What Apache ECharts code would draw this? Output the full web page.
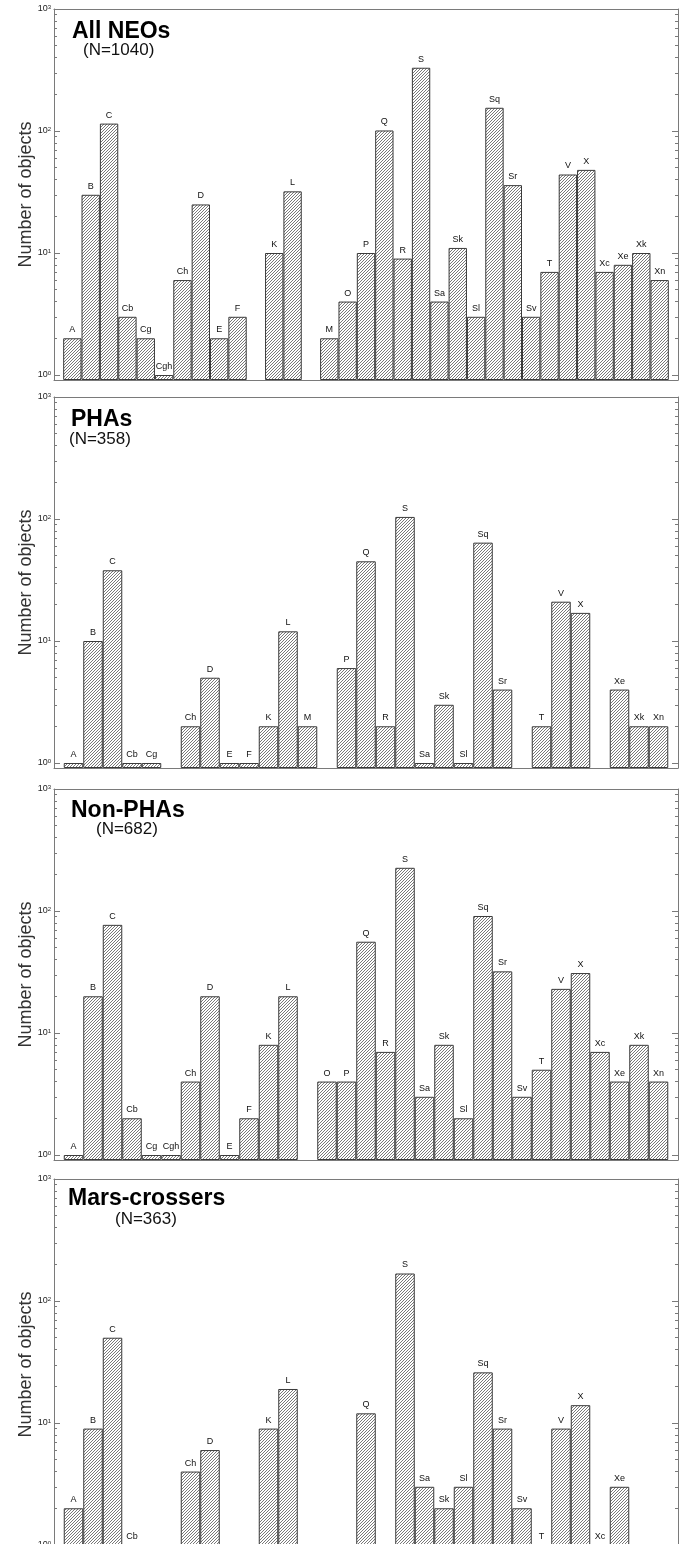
<!DOCTYPE html>
<html><head><meta charset="utf-8">
<script src="https://cdn.jsdelivr.net/npm/echarts@6/dist/echarts.min.js"></script>
<style>html,body{margin:0;padding:0;background:#fff}#c{width:686px;height:1544px}</style>
</head><body><div id="c"></div>
<script>
// ---- data ----
const allClasses   = ['A','B','C','Cb','Cg','Cgh','Ch','D','E','F','','K','L','','M','O','P','Q','R','S','Sa','Sk','Sl','Sq','Sr','Sv','T','V','X','Xc','Xe','Xk','Xn'];
const allCounts    = [2,30,115,3,2,1,6,25,2,3,null,10,32,null,2,4,10,101,9,330,4,11,3,155,36,3,7,44,48,7,8,10,6];

const phaClasses   = ['A','B','C','Cb','Cg','','Ch','D','E','F','K','L','M','','P','Q','R','S','Sa','Sk','Sl','Sq','Sr','','T','V','X','','Xe','Xk','Xn'];
const phaCounts    = [1,10,38,1,1,null,2,5,1,1,2,12,2,null,6,45,2,104,1,3,1,64,4,null,2,21,17,null,4,2,2];

const nonPhaClasses = ['A','B','C','Cb','Cg','Cgh','Ch','D','E','F','K','L','','O','P','Q','R','S','Sa','Sk','Sl','Sq','Sr','Sv','T','V','X','Xc','Xe','Xk','Xn'];
const nonPhaCounts  = [1,20,77,2,1,1,4,20,1,2,8,20,null,4,4,56,7,226,3,8,2,91,32,3,5,23,31,7,4,8,4];

const marsClasses  = ['A','B','C','Cb','','','Ch','D','','','K','L','','','','Q','','S','Sa','Sk','Sl','Sq','Sr','Sv','T','V','X','Xc','Xe','',''];
const marsCounts   = [2,9,50,1,null,null,4,6,null,null,9,19,null,null,null,12,null,168,3,2,3,26,9,2,1,9,14,1,3,null,null];

const panelTitles    = ['All NEOs','PHAs','Non-PHAs','Mars-crossers'];
const panelSubtitles = ['(N=1040)','(N=358)','(N=682)','(N=363)'];
const majorTicks = [1,10,100,1000];
const minorTicks = [2,3,4,5,6,7,8,9,20,30,40,50,60,70,80,90,200,300,400,500,600,700,800,900];
const yAxisName = 'Number of objects';

// ---- layout / style ----
const FONT = '"Liberation Sans", Arial, Helvetica, sans-serif';
const panels = [
  {cls: allClasses, cnt: allCounts, top: 9,    tL: 72, tT: 20,   sL: 83, sT: 42},
  {cls: phaClasses, cnt: phaCounts, top: 397,  tL: 71, tT: 408,  sL: 69, sT: 431},
  {cls: nonPhaClasses, cnt: nonPhaCounts, top: 789, tL: 71, tT: 799, sL: 96, sT: 821},
  {cls: marsClasses, cnt: marsCounts, top: 1179, tL: 68, tT: 1187, sL: 115, sT: 1211}
];
const PLOT_H = 371, Y_MIN = 0.91, Y_MAX = 1000;
const FRAME = '#7a7a7a';

function makeHatch() {
  const s = 6, c = document.createElement('canvas');
  c.width = s; c.height = s;
  const g = c.getContext('2d');
  g.fillStyle = '#fff'; g.fillRect(0, 0, s, s);
  g.strokeStyle = '#6a6a6a'; g.lineWidth = 0.9;
  for (let k = -3; k <= 3; k++) {
    const o = k * 3;
    g.beginPath(); g.moveTo(o, s); g.lineTo(o + s, 0); g.stroke();
  }
  return c;
}
const hatch = makeHatch();

const grid = [], xAxis = [], yAxis = [], series = [], title = [];
const supMap = {1:'0',10:'1',100:'2',1000:'3'};

panels.forEach((p, i) => {
  const n = p.cls.length;
  grid.push({left: 54, right: 8, top: p.top, height: PLOT_H, containLabel: false, outerBoundsMode: 'none'});
  const xBase = {type: 'value', gridIndex: i, min: -1, max: n,
    axisLine: {show: true, onZero: false, lineStyle: {color: FRAME, width: 1}},
    axisTick: {show: false}, axisLabel: {show: false}, splitLine: {show: false}};
  xAxis.push(Object.assign({position: 'bottom'}, xBase));
  xAxis.push(Object.assign({position: 'top'}, xBase));
  const yBase = {type: 'log', logBase: 10, gridIndex: i, min: Y_MIN, max: Y_MAX, startValue: Y_MIN,
    splitLine: {show: false}, minorSplitLine: {show: false}};
  // left major
  yAxis.push(Object.assign({}, yBase, {position: 'left',
    name: yAxisName, nameLocation: 'middle', nameGap: 19, nameMoveOverlap: false,
    nameTextStyle: {fontSize: 18, color: '#333', fontFamily: FONT},
    axisLine: {show: true, onZero: false, lineStyle: {color: FRAME, width: 1}},
    axisTick: {show: true, inside: true, length: 6, customValues: majorTicks, lineStyle: {color: FRAME}},
    axisLabel: {show: true, margin: 3, customValues: majorTicks,
      formatter: v => '{b|10}{s|' + supMap[Math.round(v)] + '}',
      rich: {b: {fontSize: 9, color: '#222', fontFamily: FONT},
             s: {fontSize: 6, color: '#222', fontFamily: FONT, verticalAlign: 'top', padding: [0,0,4,0]}}}
  }));
  // left minor
  yAxis.push(Object.assign({}, yBase, {position: 'left',
    axisLine: {show: false, onZero: false},
    axisTick: {show: true, inside: true, length: 3, customValues: minorTicks, lineStyle: {color: FRAME}},
    axisLabel: {show: false}}));
  // right major
  yAxis.push(Object.assign({}, yBase, {position: 'right',
    axisLine: {show: true, onZero: false, lineStyle: {color: FRAME, width: 1}},
    axisTick: {show: true, inside: true, length: 6, customValues: majorTicks, lineStyle: {color: FRAME}},
    axisLabel: {show: false}}));
  // right minor
  yAxis.push(Object.assign({}, yBase, {position: 'right',
    axisLine: {show: false, onZero: false},
    axisTick: {show: true, inside: true, length: 3, customValues: minorTicks, lineStyle: {color: FRAME}},
    axisLabel: {show: false}}));

  const data = [];
  p.cls.forEach((c, j) => { if (p.cnt[j] != null) data.push({name: c, value: [j, p.cnt[j]]}); });
  series.push({type: 'bar', xAxisIndex: 2 * i, yAxisIndex: 4 * i, barWidth: '100%',
    data: data,
    itemStyle: {color: {image: hatch, repeat: 'repeat'}, borderColor: '#3a3a3a', borderWidth: 1},
    label: {show: true, position: 'top', distance: 4, fontSize: 9, color: '#111', fontFamily: FONT,
      formatter: q => q.name},
    emphasis: {disabled: true}, animation: false});

  title.push({text: panelTitles[i], left: p.tL, top: p.tT, padding: 0,
    textStyle: {fontSize: 23, fontWeight: 'bold', color: '#000', fontFamily: FONT}});
  title.push({text: panelSubtitles[i], left: p.sL, top: p.sT, padding: 0,
    textStyle: {fontSize: 17, fontWeight: 'normal', color: '#111', fontFamily: FONT}});
});

const chart = echarts.init(document.getElementById('c'), null, {renderer: 'canvas', width: 686, height: 1544});
chart.setOption({
  animation: false,
  backgroundColor: '#fff',
  textStyle: {fontFamily: FONT},
  title, grid, xAxis, yAxis, series,
  tooltip: {show: false}
});
</script></body></html>
